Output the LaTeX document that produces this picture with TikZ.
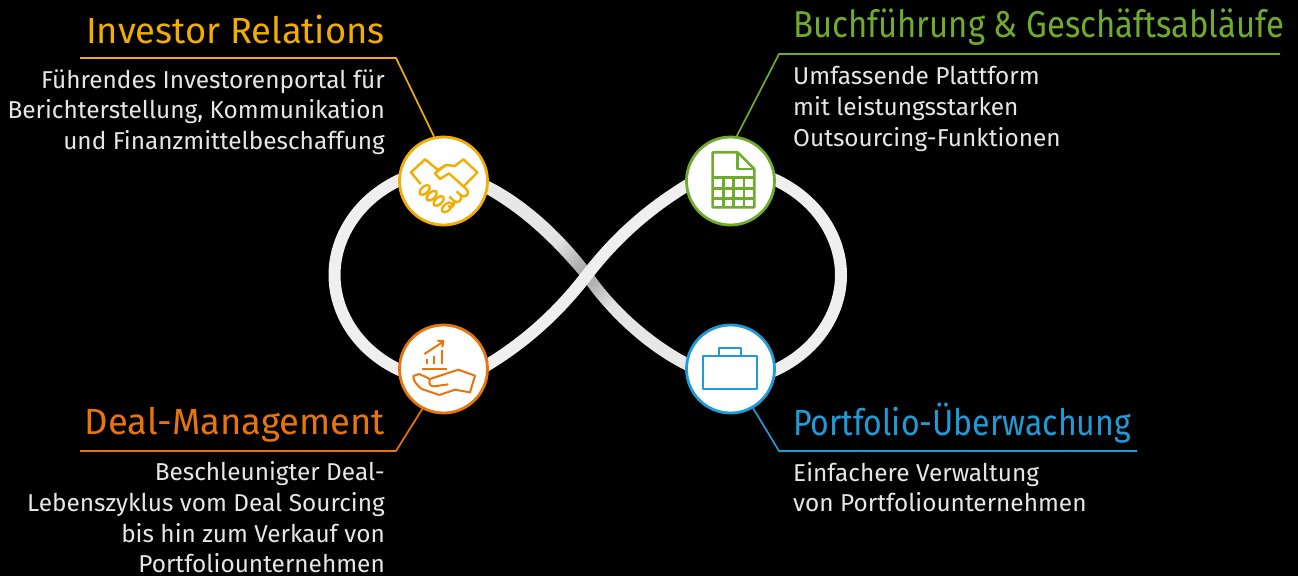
\documentclass[tikz,border=0pt]{standalone}
\usepackage{fontspec}
\setmainfont{Fira Sans}
\newfontfamily\narrowhead[FakeStretch=0.88]{Fira Sans}
\definecolor{invyellow}{HTML}{F2AE00}
\definecolor{bookgreen}{HTML}{6FAB2D}
\definecolor{dealorange}{HTML}{E8740C}
\definecolor{portblue}{HTML}{1F9BD7}
\definecolor{bodygrey}{HTML}{E6E6E6}
\definecolor{loopgrey}{HTML}{F0EFEF}
\pgfdeclarehorizontalshading{loopshade}{100bp}{
    color(0bp)=(loopgrey); color(40bp)=(loopgrey!95!black); color(47bp)=(loopgrey!75!black);
    color(50bp)=(loopgrey!70!black); color(53bp)=(loopgrey!75!black); color(60bp)=(loopgrey!95!black);
    color(100bp)=(loopgrey)}
\tikzset{
    loopstrand/.style={line width=12pt, draw=loopgrey},
    phase/.style={circle, fill=white, draw=#1, line width=2.8pt, minimum size=88pt, inner sep=0pt},
    leader/.style={draw=#1, line width=1.7pt},
    icon/.style={draw=#1, line width=2.4pt, line join=round},
    heading/.style={inner sep=0pt, text=#1, font=\fontsize{36.4}{36}\selectfont},
    narrowheading/.style={inner sep=0pt, text=#1, font=\narrowhead\fontsize{36.4}{36}\selectfont},
    blurb/.style={inner sep=0pt, text=bodygrey, font=\fontsize{24.4}{30.6}\selectfont},
}
\begin{document}
\begin{tikzpicture}[x=1pt, y=-1pt]
    \useasboundingbox (0, 0) rectangle (1298, 576);
    \fill[black] (0, 0) rectangle (1298, 576);
    % the loop
    \shade[shading=loopshade, shading angle=-42] (478, 176) .. controls (525, 196) and (565, 236) .. (591.4, 271)
        .. controls (610, 300) and (650, 340) .. (696, 362) -- (691, 373)
        .. controls (645, 352) and (605, 312) .. (582.6, 279)
        .. controls (555, 246) and (520, 210) .. (473, 187) -- cycle;
    \draw[loopstrand] (415, 174) .. controls (365, 190) and (334.5, 232) .. (334.5, 275)
        .. controls (334.5, 318) and (365, 360) .. (415, 376);
    \draw[loopstrand] (760, 174) .. controls (810, 190) and (841, 232) .. (841, 275)
        .. controls (841, 318) and (810, 360) .. (760, 376);
    \draw[loopstrand] (470, 375) .. controls (525, 345) and (560, 310) .. (587, 275)
        .. controls (614, 240) and (650, 205) .. (705, 175);
    % phases
    \node[phase=invyellow] (investor) at (443.5, 181) {};
    \node[phase=bookgreen] (booking) at (730.5, 181) {};
    \node[phase=dealorange] (deal) at (443.5, 369) {};
    \node[phase=portblue] (portfolio) at (730.5, 369) {};
    % headings and blurbs
    \node[heading=invyellow, anchor=east] (investorhead) at (385, 29.5) {Investor Relations};
    \node[narrowheading=bookgreen, anchor=west, font=\narrowhead\fontsize{37.4}{36}\selectfont] (bookinghead) at (793, 27) {Buchführung \& Geschäftsabläufe};
    \node[heading=dealorange, anchor=east] (dealhead) at (385, 425) {Deal-Management};
    \node[narrowheading=portblue, anchor=west] (portfoliohead) at (793, 423.5) {Portfolio-Überwachung};
    \node[blurb, anchor=east, align=right] (investortext) at (385, 112) {Führendes Investorenportal für\\Berichterstellung, Kommunikation\\und Finanzmittelbeschaffung};
    \node[blurb, anchor=west, align=left] (bookingtext) at (793, 109) {Umfassende Plattform\\mit leistungsstarken\\Outsourcing-Funktionen};
    \node[blurb, anchor=east, align=right] (dealtext) at (385, 517.5) {Beschleunigter Deal-\\Lebenszyklus vom Deal Sourcing\\bis hin zum Verkauf von\\Portfoliounternehmen};
    \node[blurb, anchor=west, align=left] (portfoliotext) at (793, 487) {Einfachere Verwaltung\\von Portfoliounternehmen};
    % leaders
    \coordinate (investorbend) at (396, 58);
    \coordinate (investorend) at (80, 58);
    \coordinate (bookingbend) at (779, 54);
    \coordinate (bookingend) at (1280, 54);
    \coordinate (dealbend) at (396, 451);
    \coordinate (dealend) at (80, 451);
    \coordinate (portfoliobend) at (779, 451);
    \coordinate (portfolioend) at (1137, 451);
    \draw[leader=invyellow] (investor.102) -- (investorbend) -- (investorend);
    \draw[leader=bookgreen] (booking.82) -- (bookingbend) -- (bookingend);
    \draw[leader=dealorange] (deal.242) -- (dealbend) -- (dealend);
    \draw[leader=portblue] (portfolio.-60) -- (portfoliobend) -- (portfolioend);
    % handshake
    \begin{scope}[shift={(380, 120)}, scale=1/3, icon=invyellow]
        \draw (122, 192) -- (93, 157) -- (135, 118) -- (174, 150) -- (198, 135) -- (225, 138) -- (250, 118) -- (292, 157) -- (252, 198);
        \draw (198, 135) -- (165, 160) -- (180, 177) -- (207, 160) -- (262, 210) .. controls (270, 222) and (255, 236) .. (243, 226) -- (230, 214);
        \draw (243, 226) .. controls (248, 242) and (232, 252) .. (222, 243) -- (208, 230);
        \draw (222, 243) .. controls (226, 258) and (214, 266) .. (204, 258);
        \foreach \cx/\cy in {134/210, 155/227, 176/243, 201/262} {
            \draw[rotate around={42:(\cx, \cy)}] (\cx, \cy) ellipse [x radius=19, y radius=10];
        }
    \end{scope}
    % ledger sheet
    \begin{scope}[shift={(670, 120)}, scale=1/3, icon=bookgreen]
        \draw (128, 97) -- (203, 97) -- (253, 147) -- (253, 262) -- (128, 262) -- cycle;
        \draw (203, 97) -- (203, 147) -- (253, 147);
        \foreach \gy in {172, 205, 235} {
            \draw (128, \gy) -- (253, \gy);
        }
        \foreach \gx in {160, 190, 222} {
            \draw (\gx, 172) -- (\gx, 262);
        }
    \end{scope}
    % open hand with chart
    \begin{scope}[shift={(380, 315)}, scale=1/3, icon=dealorange, line width=2pt]
        \draw (133, 117) -- (190, 80);
        \draw (172, 77) -- (190, 78) -- (187, 97);
        \draw (140, 132) -- (140, 148);
        \draw (162, 122) -- (162, 148);
        \draw (186, 105) -- (186, 148);
        \draw (126, 161) -- (200, 161);
        \draw (150, 192) -- (235, 164) -- (285, 182) -- (270, 232) -- (225, 224) -- (178, 240) -- (125, 222)
            .. controls (110, 210) and (98, 195) .. (100, 183) -- (118, 177) -- (150, 192)
            .. controls (145, 205) and (150, 215) .. (162, 214) -- (205, 208);
    \end{scope}
    % briefcase
    \begin{scope}[shift={(670, 315)}, scale=1/3, icon=portblue, line width=2pt]
        \draw (99, 122) rectangle (261, 221);
        \draw (148, 122) -- (148, 100) -- (213, 100) -- (213, 122);
    \end{scope}
\end{tikzpicture}
\end{document}
